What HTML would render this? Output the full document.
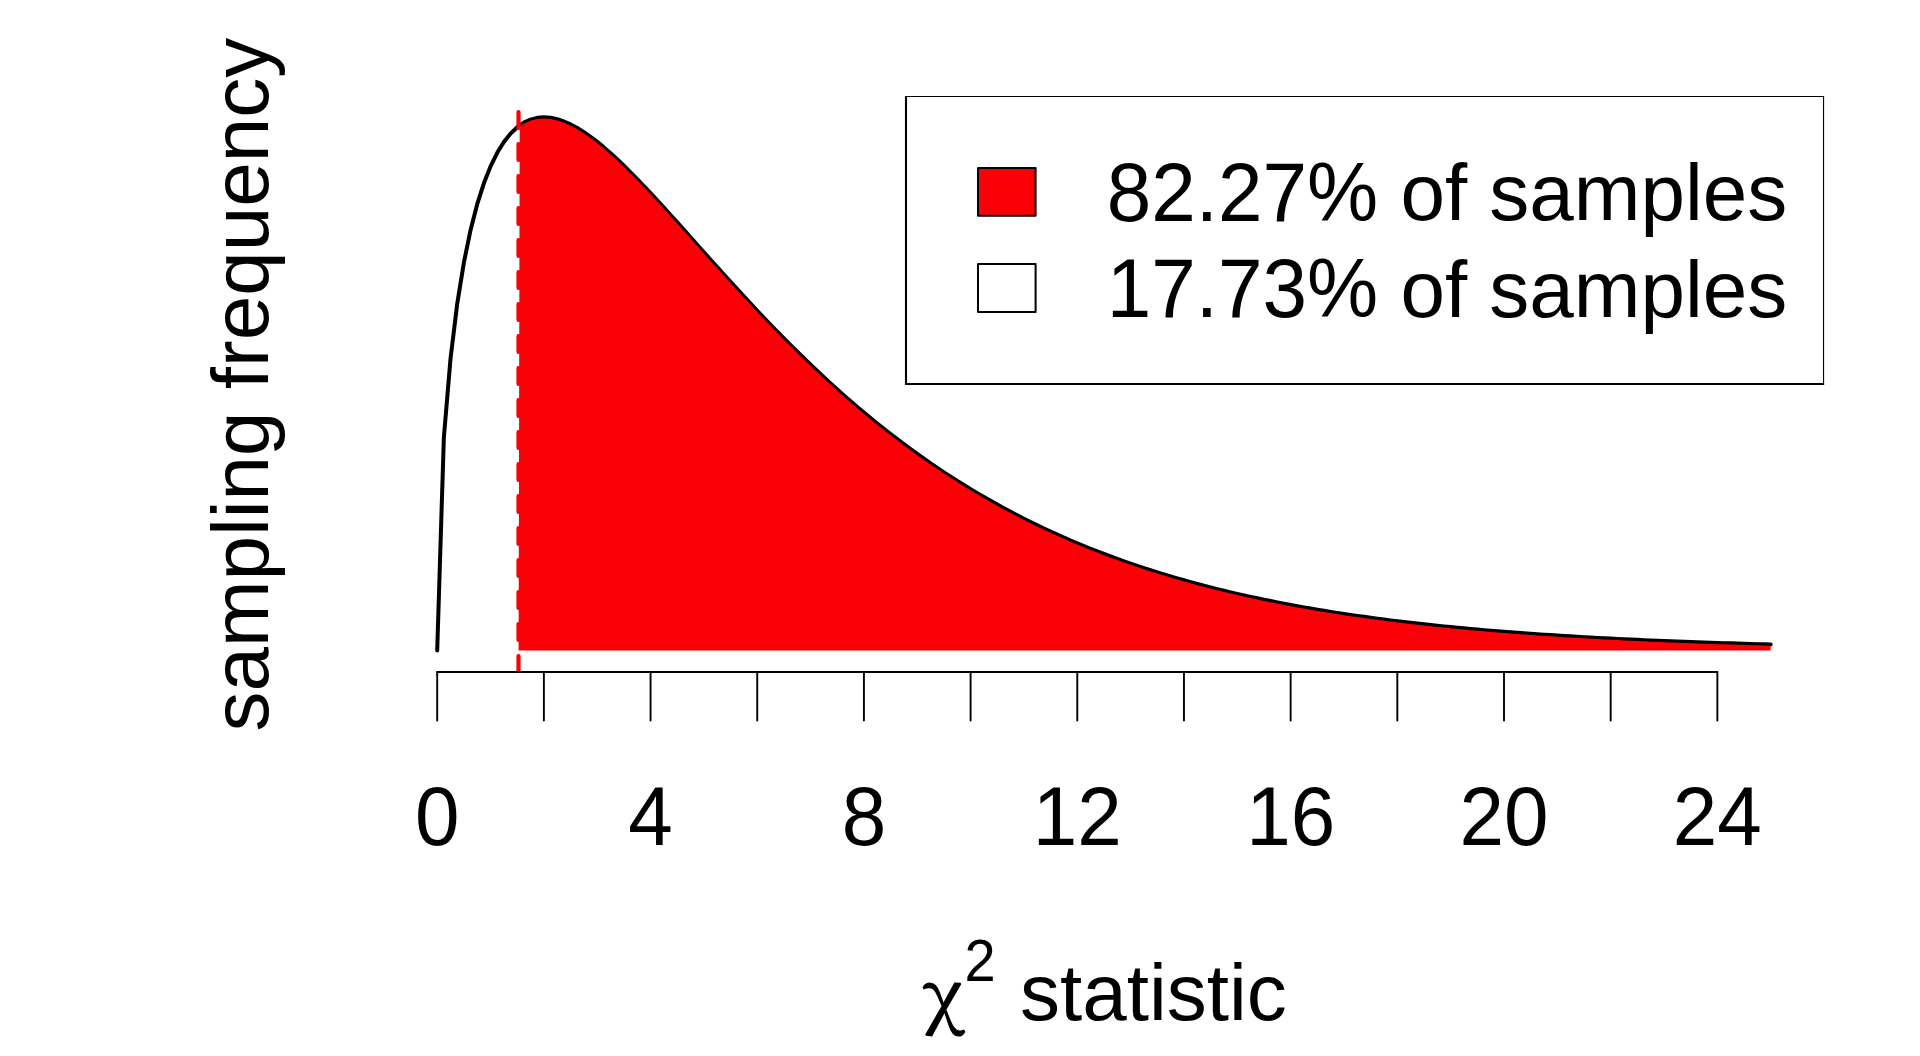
<!DOCTYPE html>
<html lang="en"><head><meta charset="utf-8"><title>chi-square sampling distribution</title>
<style>
html,body{margin:0;padding:0;background:#fff;}
body{width:1920px;height:1056px;overflow:hidden;}
svg{display:block;}
text{font-family:"Liberation Sans",Arial,Helvetica,sans-serif;font-size:80px;fill:#000;}
.sym{font-family:"Noto Serif CJK SC","Liberation Serif",serif;}
.sup{font-size:56.00px;}
</style></head><body>
<svg width="1920" height="1056" viewBox="0 0 1920 1056">
<rect width="1920" height="1056" fill="#fff"/>
<path d="M437.20,650.50 L443.87,437.49 L450.53,358.52 L457.20,303.90 L463.87,262.60 L470.54,230.16 L477.20,204.20 L483.87,183.28 L490.54,166.38 L497.21,152.82 L503.88,142.04 L510.54,133.63 L517.21,127.25 L523.88,122.64 L530.54,119.57 L537.21,117.84 L543.88,117.30 L550.55,117.80 L557.22,119.22 L563.88,121.46 L570.55,124.41 L577.22,128.01 L583.88,132.16 L590.55,136.82 L597.22,141.92 L603.89,147.40 L610.56,153.22 L617.22,159.34 L623.89,165.72 L630.56,172.31 L637.23,179.10 L643.89,186.05 L650.56,193.14 L657.23,200.34 L663.89,207.63 L670.56,214.99 L677.23,222.40 L683.90,229.85 L690.57,237.32 L697.23,244.79 L703.90,252.27 L710.57,259.72 L717.24,267.15 L723.90,274.55 L730.57,281.91 L737.24,289.21 L743.90,296.46 L750.57,303.64 L757.24,310.75 L763.91,317.79 L770.58,324.76 L777.24,331.64 L783.91,338.43 L790.58,345.14 L797.25,351.75 L803.91,358.28 L810.58,364.70 L817.25,371.03 L823.91,377.27 L830.58,383.40 L837.25,389.43 L843.92,395.37 L850.59,401.20 L857.25,406.93 L863.92,412.55 L870.59,418.08 L877.25,423.50 L883.92,428.83 L890.59,434.05 L897.26,439.17 L903.92,444.20 L910.59,449.12 L917.26,453.95 L923.93,458.68 L930.60,463.31 L937.26,467.85 L943.93,472.29 L950.60,476.64 L957.27,480.90 L963.93,485.07 L970.60,489.14 L977.27,493.13 L983.93,497.04 L990.60,500.85 L997.27,504.59 L1003.94,508.24 L1010.61,511.81 L1017.27,515.29 L1023.94,518.70 L1030.61,522.03 L1037.28,525.29 L1043.94,528.47 L1050.61,531.57 L1057.28,534.61 L1063.94,537.57 L1070.61,540.47 L1077.28,543.29 L1083.95,546.05 L1090.62,548.74 L1097.28,551.37 L1103.95,553.94 L1110.62,556.44 L1117.29,558.89 L1123.95,561.27 L1130.62,563.60 L1137.29,565.87 L1143.95,568.08 L1150.62,570.24 L1157.29,572.35 L1163.96,574.40 L1170.62,576.41 L1177.29,578.36 L1183.96,580.26 L1190.63,582.12 L1197.30,583.93 L1203.96,585.70 L1210.63,587.42 L1217.30,589.10 L1223.97,590.73 L1230.63,592.33 L1237.30,593.88 L1243.97,595.39 L1250.63,596.87 L1257.30,598.31 L1263.97,599.71 L1270.64,601.07 L1277.31,602.40 L1283.97,603.70 L1290.64,604.96 L1297.31,606.19 L1303.98,607.39 L1310.64,608.55 L1317.31,609.69 L1323.98,610.79 L1330.64,611.87 L1337.31,612.92 L1343.98,613.94 L1350.65,614.94 L1357.32,615.90 L1363.98,616.85 L1370.65,617.77 L1377.32,618.66 L1383.99,619.53 L1390.65,620.38 L1397.32,621.20 L1403.99,622.01 L1410.65,622.79 L1417.32,623.55 L1423.99,624.29 L1430.66,625.01 L1437.33,625.71 L1443.99,626.39 L1450.66,627.06 L1457.33,627.70 L1464.00,628.33 L1470.66,628.95 L1477.33,629.54 L1484.00,630.12 L1490.67,630.69 L1497.33,631.23 L1504.00,631.77 L1510.67,632.29 L1517.34,632.79 L1524.00,633.29 L1530.67,633.76 L1537.34,634.23 L1544.01,634.68 L1550.67,635.12 L1557.34,635.55 L1564.01,635.97 L1570.68,636.37 L1577.34,636.77 L1584.01,637.15 L1590.68,637.53 L1597.35,637.89 L1604.01,638.24 L1610.68,638.58 L1617.35,638.92 L1624.02,639.24 L1630.68,639.56 L1637.35,639.87 L1644.02,640.16 L1650.69,640.45 L1657.35,640.74 L1664.02,641.01 L1670.69,641.28 L1677.36,641.54 L1684.02,641.79 L1690.69,642.04 L1697.36,642.27 L1704.03,642.51 L1710.69,642.73 L1717.36,642.95 L1724.03,643.16 L1730.70,643.37 L1737.36,643.57 L1744.03,643.77 L1750.70,643.96 L1757.37,644.15 L1764.03,644.33 L1770.70,644.50" fill="none" stroke="#000" stroke-width="4" stroke-linecap="round" stroke-linejoin="round"/>
<path d="M518.60,650.50 L519.70,126.54 L523.88,123.84 L530.54,120.77 L537.21,119.04 L543.88,118.50 L550.55,119.00 L557.22,120.42 L563.88,122.66 L570.55,125.61 L577.22,129.21 L583.88,133.36 L590.55,138.02 L597.22,143.12 L603.89,148.60 L610.56,154.42 L617.22,160.54 L623.89,166.92 L630.56,173.51 L637.23,180.30 L643.89,187.25 L650.56,194.34 L657.23,201.54 L663.89,208.83 L670.56,216.19 L677.23,223.60 L683.90,231.05 L690.57,238.52 L697.23,245.99 L703.90,253.47 L710.57,260.92 L717.24,268.35 L723.90,275.75 L730.57,283.11 L737.24,290.41 L743.90,297.66 L750.57,304.84 L757.24,311.95 L763.91,318.99 L770.58,325.96 L777.24,332.84 L783.91,339.63 L790.58,346.34 L797.25,352.95 L803.91,359.48 L810.58,365.90 L817.25,372.23 L823.91,378.47 L830.58,384.60 L837.25,390.63 L843.92,396.57 L850.59,402.40 L857.25,408.13 L863.92,413.75 L870.59,419.28 L877.25,424.70 L883.92,430.03 L890.59,435.25 L897.26,440.37 L903.92,445.40 L910.59,450.32 L917.26,455.15 L923.93,459.88 L930.60,464.51 L937.26,469.05 L943.93,473.49 L950.60,477.84 L957.27,482.10 L963.93,486.27 L970.60,490.34 L977.27,494.33 L983.93,498.24 L990.60,502.05 L997.27,505.79 L1003.94,509.44 L1010.61,513.01 L1017.27,516.49 L1023.94,519.90 L1030.61,523.23 L1037.28,526.49 L1043.94,529.67 L1050.61,532.77 L1057.28,535.81 L1063.94,538.77 L1070.61,541.67 L1077.28,544.49 L1083.95,547.25 L1090.62,549.94 L1097.28,552.57 L1103.95,555.14 L1110.62,557.64 L1117.29,560.09 L1123.95,562.47 L1130.62,564.80 L1137.29,567.07 L1143.95,569.28 L1150.62,571.44 L1157.29,573.55 L1163.96,575.60 L1170.62,577.61 L1177.29,579.56 L1183.96,581.46 L1190.63,583.32 L1197.30,585.13 L1203.96,586.90 L1210.63,588.62 L1217.30,590.30 L1223.97,591.93 L1230.63,593.53 L1237.30,595.08 L1243.97,596.59 L1250.63,598.07 L1257.30,599.51 L1263.97,600.91 L1270.64,602.27 L1277.31,603.60 L1283.97,604.90 L1290.64,606.16 L1297.31,607.39 L1303.98,608.59 L1310.64,609.75 L1317.31,610.89 L1323.98,611.99 L1330.64,613.07 L1337.31,614.12 L1343.98,615.14 L1350.65,616.14 L1357.32,617.10 L1363.98,618.05 L1370.65,618.97 L1377.32,619.86 L1383.99,620.73 L1390.65,621.58 L1397.32,622.40 L1403.99,623.21 L1410.65,623.99 L1417.32,624.75 L1423.99,625.49 L1430.66,626.21 L1437.33,626.91 L1443.99,627.59 L1450.66,628.26 L1457.33,628.90 L1464.00,629.53 L1470.66,630.15 L1477.33,630.74 L1484.00,631.32 L1490.67,631.89 L1497.33,632.43 L1504.00,632.97 L1510.67,633.49 L1517.34,633.99 L1524.00,634.49 L1530.67,634.96 L1537.34,635.43 L1544.01,635.88 L1550.67,636.32 L1557.34,636.75 L1564.01,637.17 L1570.68,637.57 L1577.34,637.97 L1584.01,638.35 L1590.68,638.73 L1597.35,639.09 L1604.01,639.44 L1610.68,639.78 L1617.35,640.12 L1624.02,640.44 L1630.68,640.76 L1637.35,641.07 L1644.02,641.36 L1650.69,641.65 L1657.35,641.94 L1664.02,642.21 L1670.69,642.48 L1677.36,642.74 L1684.02,642.99 L1690.69,643.24 L1697.36,643.47 L1704.03,643.71 L1710.69,643.93 L1717.36,644.15 L1724.03,644.36 L1730.70,644.57 L1737.36,644.77 L1744.03,644.97 L1750.70,645.16 L1757.37,645.35 L1764.03,645.53 L1770.70,645.70 L1770.70,650.50 Z" fill="#fb0007" stroke="none"/>
<line x1="518.5" y1="112" x2="518.5" y2="670.6" stroke="#fb0007" stroke-width="4.2" stroke-linecap="round" stroke-dasharray="16 16"/>
<g stroke="#000" stroke-width="1.9" stroke-linecap="round" fill="none">
<line x1="437.20" y1="672" x2="1717.36" y2="672"/>
<line x1="437.20" y1="672" x2="437.20" y2="720.5"/><line x1="543.88" y1="672" x2="543.88" y2="720.5"/><line x1="650.56" y1="672" x2="650.56" y2="720.5"/><line x1="757.24" y1="672" x2="757.24" y2="720.5"/><line x1="863.92" y1="672" x2="863.92" y2="720.5"/><line x1="970.60" y1="672" x2="970.60" y2="720.5"/><line x1="1077.28" y1="672" x2="1077.28" y2="720.5"/><line x1="1183.96" y1="672" x2="1183.96" y2="720.5"/><line x1="1290.64" y1="672" x2="1290.64" y2="720.5"/><line x1="1397.32" y1="672" x2="1397.32" y2="720.5"/><line x1="1504.00" y1="672" x2="1504.00" y2="720.5"/><line x1="1610.68" y1="672" x2="1610.68" y2="720.5"/><line x1="1717.36" y1="672" x2="1717.36" y2="720.5"/>
</g>
<text transform="translate(437.20,844.8) scale(1,1.04)" text-anchor="middle">0</text><text transform="translate(650.56,844.8) scale(1,1.04)" text-anchor="middle">4</text><text transform="translate(863.92,844.8) scale(1,1.04)" text-anchor="middle">8</text><text transform="translate(1077.28,844.8) scale(1,1.04)" text-anchor="middle">12</text><text transform="translate(1290.64,844.8) scale(1,1.04)" text-anchor="middle">16</text><text transform="translate(1504.00,844.8) scale(1,1.04)" text-anchor="middle">20</text><text transform="translate(1717.36,844.8) scale(1,1.04)" text-anchor="middle">24</text>
<rect x="906" y="96" width="918" height="288" fill="#fff"/>
<g stroke="#000" fill="none">
<line x1="906" y1="96" x2="906" y2="385" stroke-width="2.1"/>
<line x1="905" y1="384" x2="1824.1" y2="384" stroke-width="2"/>
<line x1="905" y1="96.5" x2="1824.1" y2="96.5" stroke-width="1.2"/>
<line x1="1823.55" y1="96" x2="1823.55" y2="385" stroke-width="1.1"/>
</g>
<rect x="978" y="168" width="57.6" height="47.8" fill="#fb0007" stroke="#000" stroke-width="2" stroke-linejoin="round"/>
<rect x="978" y="264.1" width="57.6" height="48" fill="#fff" stroke="#000" stroke-width="2" stroke-linejoin="round"/>
<text transform="translate(1106.7,220.8) scale(1,1.04)">82.27%</text><text x="1378.2" y="220.4" xml:space="preserve"> of samples</text>
<text transform="translate(1106.7,317) scale(1,1.04)">17.73%</text><text x="1378.2" y="316.6" xml:space="preserve"> of samples</text>
<text transform="translate(268,384.7) rotate(-90)" text-anchor="middle">sampling frequency</text>
<text class="sym" transform="translate(923.1,1021.2) scale(0.93,0.89)" stroke="#000" stroke-width="1.4">χ</text>
<text class="sup" transform="translate(964.6,980.6) scale(1,1.05)">2</text>
<text x="1020" y="1019.6">statistic</text>
</svg>
</body></html>
